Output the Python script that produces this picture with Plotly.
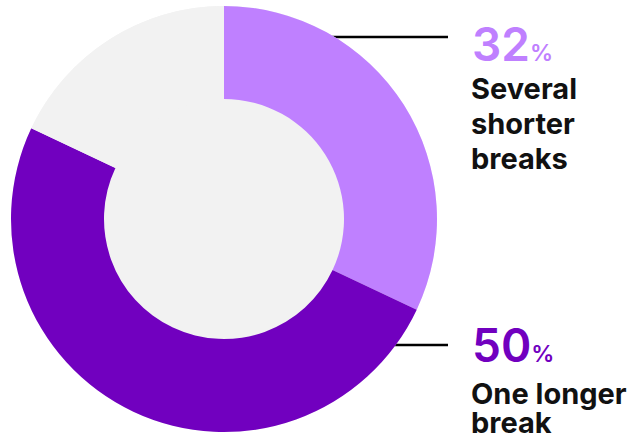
import plotly.graph_objects as go

# Share of respondents by break pattern
labels = ["Several shorter breaks", "One longer break", "Other"]
values = [32, 50, 18]
colors = ["#BF80FF", "#7100BF", "#F2F2F2"]
callout_lines = [["Several", "shorter", "breaks"], ["One longer", "break"]]

W, H = 636, 439
cx, cy, r_out, r_in = 224, 219, 213, 120


def px(x):
    return x / W


def py(y):
    return 1 - y / H


domain = dict(x=[px(cx - r_out), px(cx + r_out)], y=[py(cy + r_out), py(cy - r_out)])

fig = go.Figure()
# solid backdrop disc so the hole shares the neutral fill
fig.add_trace(go.Pie(values=[1], marker=dict(colors=["#F2F2F2"], line=dict(width=0)),
                     domain=domain, textinfo="none", hoverinfo="skip", sort=False,
                     showlegend=False))
fig.add_trace(go.Pie(labels=labels, values=values, hole=r_in / r_out,
                     marker=dict(colors=colors, line=dict(width=0)),
                     domain=domain, sort=False, direction="clockwise", rotation=0,
                     textinfo="none", showlegend=False))

# callout leaders (start under the ring, visible from its outer edge)
leader_y = [37, 345]
for y in leader_y:
    fig.add_shape(type="line", xref="paper", yref="paper", layer="below",
                  x0=px(cx), x1=px(448), y0=py(y), y1=py(y),
                  line=dict(color="#000000", width=2.5))

num_mid = [44, 345]
line_mid = [[88, 123, 158], [393, 422]]
for i in range(2):
    fig.add_annotation(
        x=px(470), y=py(num_mid[i]), xref="paper", yref="paper",
        xanchor="left", yanchor="middle", showarrow=False,
        text=f"{values[i]}<span style='font-size:23px'>%</span>",
        font=dict(family="Inter", size=46, color=colors[i], weight=600),
    )
    for txt, ym in zip(callout_lines[i], line_mid[i]):
        fig.add_annotation(
            x=px(469), y=py(ym), xref="paper", yref="paper",
            xanchor="left", yanchor="middle", showarrow=False,
            text=f"<b>{txt}</b>",
            font=dict(family="Inter", size=29, color="#111111"),
        )

fig.update_layout(width=W, height=H, margin=dict(l=0, r=0, t=0, b=0),
                  paper_bgcolor="white", plot_bgcolor="white")
fig.write_html("out.html")
